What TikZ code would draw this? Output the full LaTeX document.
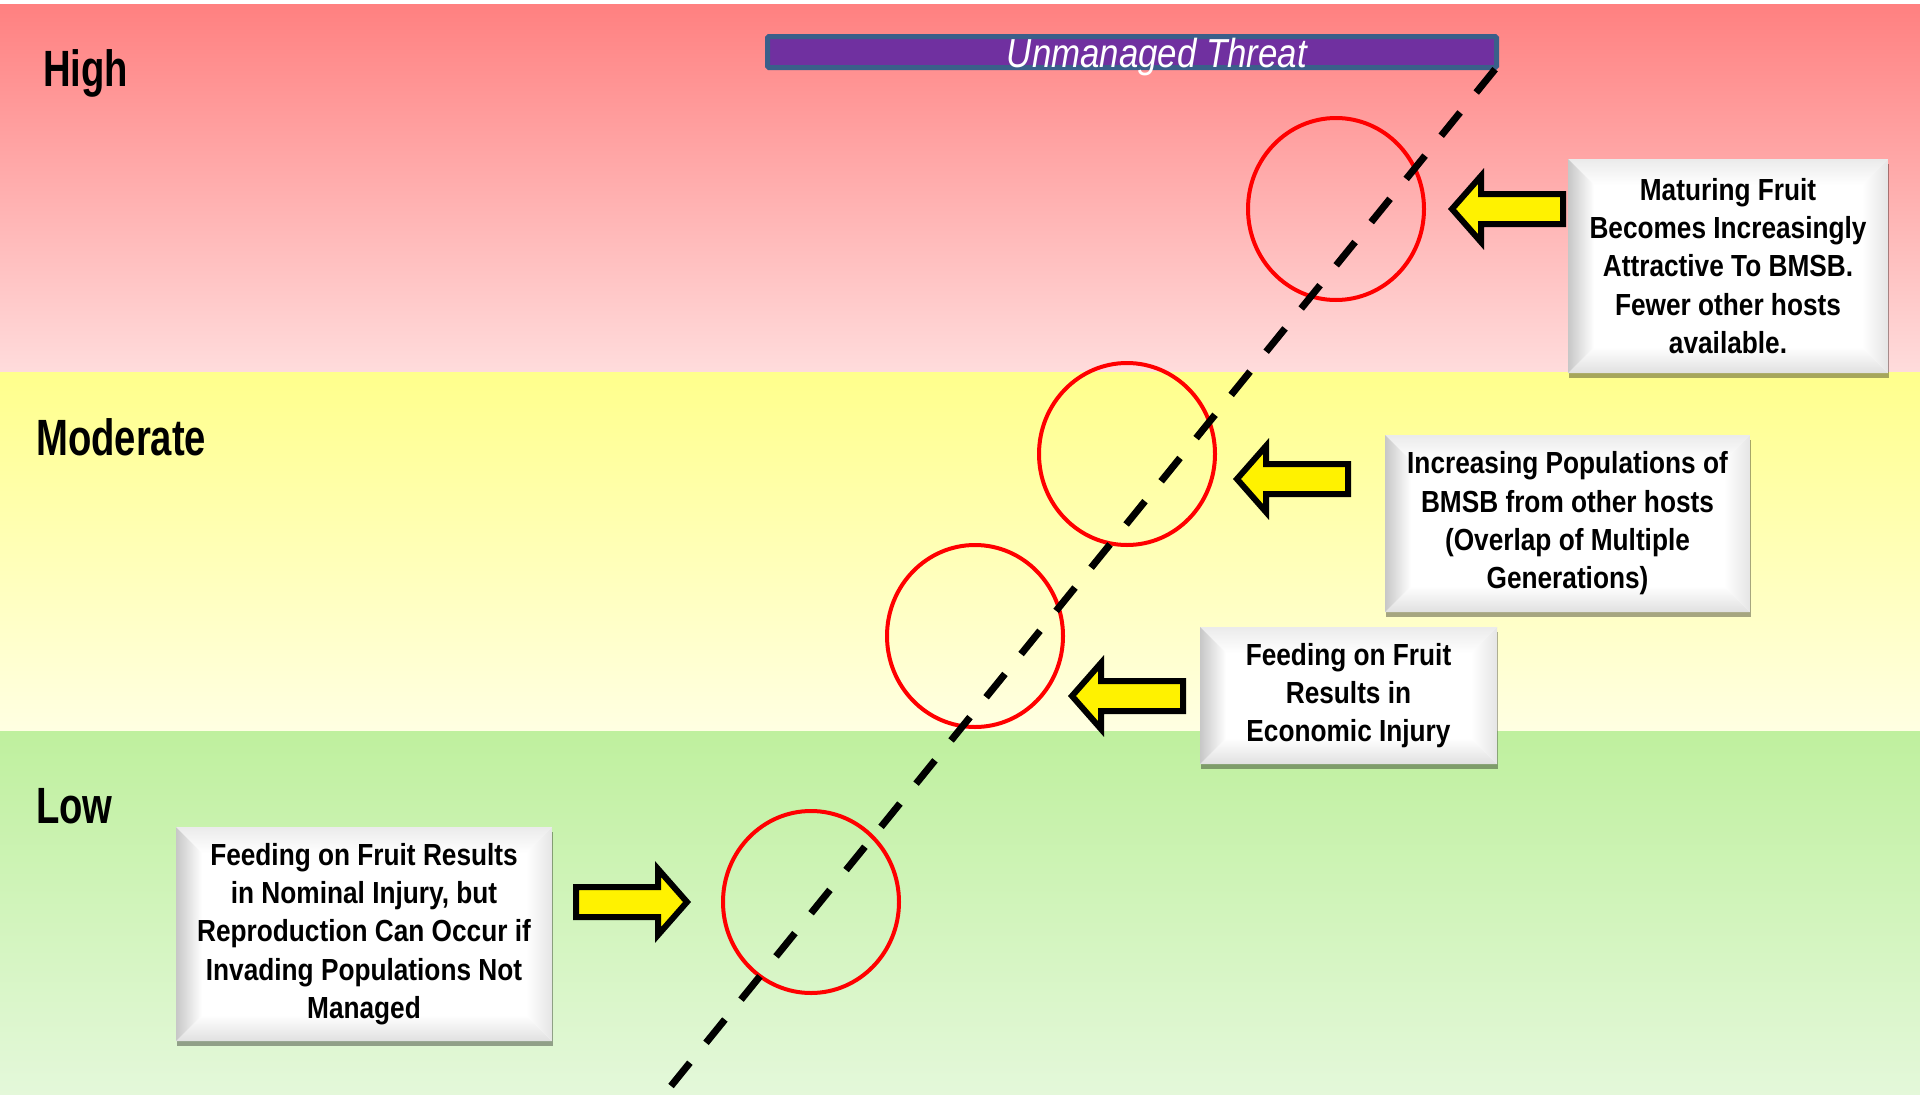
\documentclass[tikz,border=0pt]{standalone}
\usepackage{fontspec}
\setmainfont{Liberation Sans}
\newfontfamily\boxfont[FakeStretch=0.86]{Liberation Sans}
\newfontfamily\labfont[FakeStretch=0.75]{Liberation Sans}
\usetikzlibrary{shapes.geometric,shadows}
\definecolor{hiTop}{HTML}{FF8080}
\definecolor{hiBot}{HTML}{FFDCDC}
\definecolor{moTop}{HTML}{FFFF8C}
\definecolor{moBot}{HTML}{FFFFE2}
\definecolor{loTop}{HTML}{BFF09E}
\definecolor{loBot}{HTML}{E4F8DA}
\definecolor{barblue}{HTML}{3A5F8A}
\definecolor{barpurple}{HTML}{7030A0}
\tikzset{
  lab/.style={inner sep=0pt, font=\labfont\bfseries\fontsize{51}{60}\selectfont},
  threatbar/.style={draw=barblue, fill=barpurple, line width=5pt, minimum width=729pt, minimum height=31pt, inner sep=0pt, outer sep=0pt, rounded corners=1.5pt},
  dashline/.style={line width=7pt, dash pattern=on 30pt off 25.6pt},
  risk/.style={ellipse, draw=red, line width=4pt, minimum width=176pt, minimum height=182pt, inner sep=0pt},
  yarrowstyle/.style={draw=black, fill=yellow, line width=6pt, miter limit=10},
  blockarrow/.pic={\draw[yarrowstyle] (0,0) -- (29,-33) -- (29,-15) -- (111,-15) -- (111,15) -- (29,15) -- (29,33) -- cycle;},
  bevelbox/.style={fill=white, align=center, inner sep=0pt, outer sep=0pt,
    font=\boxfont\bfseries\fontsize{30.5}{38.3}\selectfont,
    drop shadow={shadow xshift=1pt, shadow yshift=-5pt, opacity=0.35, fill=black},
    path picture={
      \path (path picture bounding box.north west) coordinate (pnw)
            (path picture bounding box.south east) coordinate (pse)
            (path picture bounding box.south west) coordinate (psw)
            (path picture bounding box.north east) coordinate (pne);
      \shade[top color=black!8, bottom color=white] (pnw) -- (pne) -- ([shift={(-26pt,-26pt)}]pne) -- ([shift={(26pt,-26pt)}]pnw) -- cycle;
      \shade[bottom color=black!12, top color=white] (psw) -- (pse) -- ([shift={(-26pt,26pt)}]pse) -- ([shift={(26pt,26pt)}]psw) -- cycle;
      \shade[left color=black!22, right color=white] (pnw) -- ([shift={(26pt,-26pt)}]pnw) -- ([shift={(26pt,26pt)}]psw) -- (psw) -- cycle;
      \shade[left color=white, right color=black!10] (pne) -- ([shift={(-26pt,-26pt)}]pne) -- ([shift={(-26pt,26pt)}]pse) -- (pse) -- cycle;
    }}
}
\begin{document}
\begin{tikzpicture}[x=1pt,y=-1pt]
\useasboundingbox (0,0) rectangle (1920,1095);
% background bands
\fill[white] (0,0) rectangle (1920,4);
\shade[top color=hiTop, bottom color=hiBot] (0,4) rectangle (1920,372);
\shade[top color=moTop, bottom color=moBot] (0,372) rectangle (1920,731);
\shade[top color=loTop, bottom color=loBot] (0,731) rectangle (1920,1095);
% level labels
\node[lab, anchor=base west] (high) at (43,86) {High};
\node[lab, anchor=base west] (mod) at (36,455) {Moderate};
\node[lab, anchor=base west] (low) at (36,823) {Low};
% threat bar
\node[threatbar] (bar) at (1132,52) {};
\node[anchor=base, text=white, inner sep=0pt, font=\boxfont\itshape\fontsize{40.5}{48}\selectfont] (threat) at (1157,67) {Unmanaged Threat};
% circles
\node[risk] (c1) at (1336,209) {};
\node[risk] (c2) at (1127,454) {};
\node[risk] (c3) at (975,636) {};
\node[risk] (c4) at (811,902) {};
% dashed line
\coordinate (lbot) at (671,1086);
\draw[dashline] (lbot) -- (bar.south east);
% arrows
\pic at (1452,209) {blockarrow};
\pic at (1237,479) {blockarrow};
\pic at (1072,696) {blockarrow};
\pic[xscale=-1] at (687,902) {blockarrow};
% boxes
\node[bevelbox, minimum width=320pt, minimum height=214pt] (b1) at (1728,266)
  {Maturing Fruit\\Becomes Increasingly\\Attractive To BMSB.\\Fewer other hosts\\available.};
\node[bevelbox, minimum width=365pt, minimum height=177pt] (b2) at (1567.5,523.5)
  {Increasing Populations of\\BMSB from other hosts\\(Overlap of Multiple\\Generations)};
\node[bevelbox, minimum width=297pt, minimum height=137pt] (b3) at (1348.5,695.5)
  {Feeding on Fruit\\Results in\\Economic Injury};
\node[bevelbox, minimum width=376pt, minimum height=214pt] (b4) at (364,934)
  {Feeding on Fruit Results\\in Nominal Injury, but\\Reproduction Can Occur if\\Invading Populations Not\\Managed};
\end{tikzpicture}
\end{document}
